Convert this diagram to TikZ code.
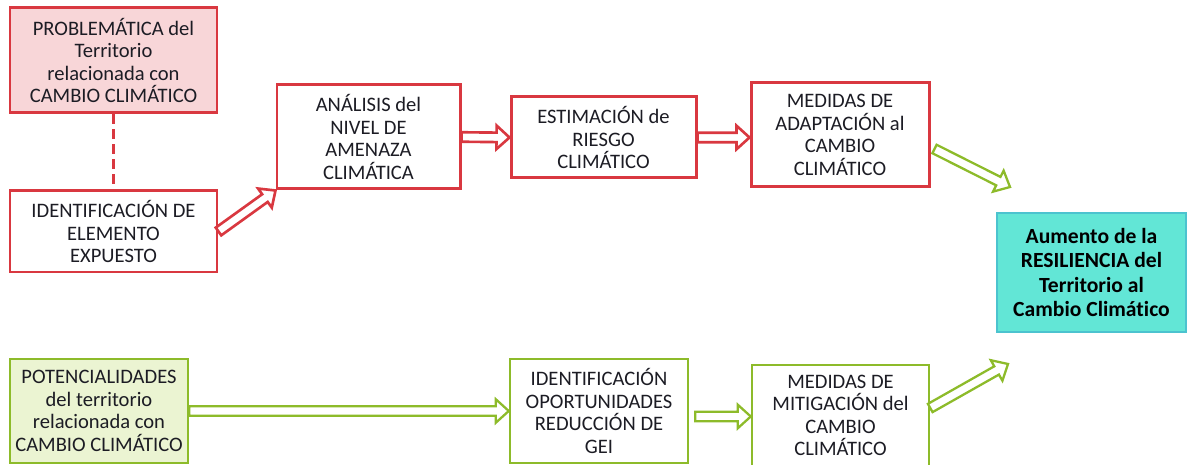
\documentclass[tikz,border=0pt]{standalone}
\usepackage{fontspec}
\setmainfont{Carlito}[Ligatures={NoCommon}]
\usetikzlibrary{calc}

\definecolor{redline}{HTML}{D93840}
\definecolor{pinkfill}{HTML}{F8D6D8}
\definecolor{greenline}{HTML}{8DBB2A}
\definecolor{greenfill}{HTML}{EBF4D2}
\definecolor{tealfill}{HTML}{62E6D6}
\definecolor{tealline}{HTML}{4CC3CF}
\definecolor{textdark}{HTML}{1C1C24}

% block arrow between two points: #2 start, #3 tip
\newcommand{\blockarrow}[3][redarrow]{%
  \path #2 coordinate (ba1) #3 coordinate (ba2);
  \draw[#1] let \p1=(ba1), \p2=(ba2), \n1={atan2(\y2-\y1,\x2-\x1)},
      \n2={veclen(\x2-\x1,\y2-\y1)-7.4pt} in
    ($(ba1)+(\n1+90:2.7pt)$) -- ($(ba1)+(\n1:\n2)+(\n1+90:2.7pt)$)
    -- ($(ba1)+(\n1:\n2)+(\n1+90:6.7pt)$) -- (ba2)
    -- ($(ba1)+(\n1:\n2)+(\n1-90:6.7pt)$) -- ($(ba1)+(\n1:\n2)+(\n1-90:2.7pt)$)
    -- ($(ba1)+(\n1-90:2.7pt)$) -- cycle;
}

\begin{document}
\begin{tikzpicture}[
    box/.style={draw, align=center, inner sep=0pt, text=textdark,
      font=\fontsize{11.7}{12.8}\selectfont},
    redbox/.style={box, draw=redline, line width=1.7pt, fill=white},
    greenbox/.style={box, draw=greenline, line width=1.4pt, fill=white},
    redarrow/.style={draw=redline, fill=white, line width=1.5pt, line join=miter},
    greenarrow/.style={draw=greenline, fill=white, line width=1.3pt, line join=miter}
  ]
  \useasboundingbox (0,0) rectangle (23.76,9.3);

  % upper row
  \node[redbox, fill=pinkfill, minimum width=4.14cm, minimum height=2.10cm] (prob) at (2.27,8.09)
    {PROBLEMÁTICA del\\Territorio\\relacionada con\\CAMBIO CLIMÁTICO};
  \node[redbox, minimum width=4.14cm, minimum height=1.62cm] (ident) at (2.27,4.67)
    {IDENTIFICACIÓN DE\\ELEMENTO\\EXPUESTO};
  \node[redbox, minimum width=3.66cm, minimum height=2.08cm] (anal) at (7.37,6.56)
    {ANÁLISIS del\\NIVEL DE\\AMENAZA\\CLIMÁTICA};
  \node[redbox, minimum width=3.70cm, minimum height=1.62cm] (estim) at (12.07,6.55)
    {ESTIMACIÓN de\\RIESGO\\CLIMÁTICO};
  \node[redbox, minimum width=3.56cm, minimum height=2.08cm] (adapt) at (16.80,6.60)
    {MEDIDAS DE\\ADAPTACIÓN al\\CAMBIO\\CLIMÁTICO};

  % result
  \node[box, draw=tealline, line width=1.2pt, fill=tealfill, text=black,
    font=\fontsize{12.3}{14}\selectfont\bfseries,
    minimum width=3.78cm, minimum height=2.38cm] (result) at (21.83,3.85)
    {Aumento de la\\RESILIENCIA del\\Territorio al\\Cambio Climático};

  % lower row
  \node[greenbox, fill=greenfill, minimum width=3.56cm, minimum height=2.08cm] (poten) at (1.98,1.08)
    {POTENCIALIDADES\\del territorio\\relacionada con\\CAMBIO CLIMÁTICO};
  \node[greenbox, minimum width=3.56cm, minimum height=2.08cm] (oport) at (11.98,1.08)
    {IDENTIFICACIÓN\\OPORTUNIDADES\\REDUCCIÓN DE\\GEI};
  \node[greenbox, minimum width=3.54cm, minimum height=2.02cm] (mitig) at (16.81,0.99)
    {MEDIDAS DE\\MITIGACIÓN del\\CAMBIO\\CLIMÁTICO};

  \draw[redline, line width=2.2pt, dash pattern=on 0.2cm off 0.1cm] (prob) -- (ident);

  \coordinate (adaptout) at ([shift={(0.08,-0.28)}]adapt.east);
  \coordinate (adapttip) at (20.20,5.56);
  \coordinate (oportout) at ([shift={(0.12,-0.11)}]oport.east);
  \coordinate (mitigout) at ([yshift=0.15cm]mitig.east);
  \coordinate (mitigtip) at (20.16,2.02);

  \blockarrow{(ident.east)}{(anal.south west)}
  \blockarrow{(anal.east)}{(estim.west)}
  \blockarrow{(estim.east)}{(estim.east -| adapt.west)}
  \blockarrow[greenarrow]{(adaptout)}{(adapttip)}
  \blockarrow[greenarrow]{(poten.east)}{(oport.west)}
  \blockarrow[greenarrow]{(oportout)}{(oportout -| mitig.west)}
  \blockarrow[greenarrow]{(mitigout)}{(mitigtip)}
\end{tikzpicture}
\end{document}
